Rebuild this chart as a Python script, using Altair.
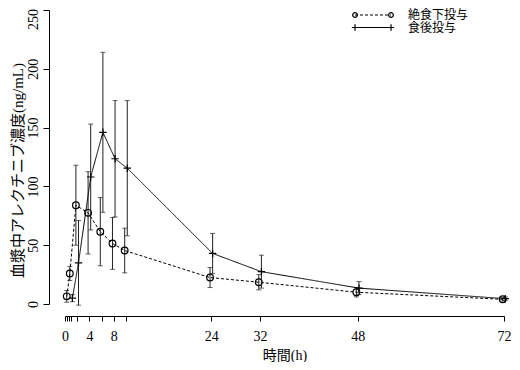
import altair as alt
import pandas as pd

# --- data ---
fast_times = [0.5, 1, 2, 4, 6, 8, 10, 24, 32, 48, 72]
fast_mean = [6.5, 26, 84, 77.5, 61.5, 51.5, 45.5, 22.5, 18.5, 10, 4]
fast_sd = [5, 6, 34, 35, 29, 22, 19, 8.5, 6.5, 4, 1.5]

fed_times = [1, 2, 4, 6, 8, 10, 24, 32, 48, 72]
fed_mean = [5, 35, 108, 146, 123.5, 115.5, 43, 27.5, 13.5, 4.5]
fed_sd = [3, 36, 45, 68, 49.5, 57.5, 17, 14, 5.5, 1.5]

x_ticks = [0, 0.33, 0.67, 1, 2, 4, 6, 8, 10, 24, 32, 48, 72]
x_labels = [0, 4, 8, 24, 32, 48, 72]
y_ticks = [0, 50, 100, 150, 200, 250]

legend_names = ["絶食下投与", "食後投与"]

FONT = "Liberation Serif, Noto Sans CJK JP"
PLUS = "M-1,0L1,0M0,-1L0,1"

def frame(t, m, s):
    return pd.DataFrame({"t": t, "m": m, "lo": [a - b for a, b in zip(m, s)],
                         "hi": [a + b for a, b in zip(m, s)]})

fast = frame(fast_times, fast_mean, fast_sd)
fed = frame(fed_times, fed_mean, fed_sd)

label_list = ",".join(str(v) for v in x_labels)
xscale = alt.Scale(domain=[0, 72], nice=False, zero=False)
yscale = alt.Scale(domain=[0, 250], nice=False)

xaxis = alt.Axis(values=x_ticks, title="時間(h)", offset=12, tickSize=5,
                 labelExpr=f"indexof([{label_list}], datum.value) >= 0 ? datum.label : ''",
                 labelOverlap=False, labelFlush=False, labelPadding=8,
                 titlePadding=5, grid=False)
yaxis = alt.Axis(values=y_ticks, title="血漿中アレクチニブ濃度(ng/mL)", offset=16,
                 tickSize=6, labelAngle=270, labelAlign="center",
                 labelBaseline="bottom", labelPadding=3, titlePadding=1, grid=False,
                 labelOverlap=False, labelFlush=False, titleY=160,
                 labelOffset={"condition": {"test": "datum.value == 250", "value": 9}, "value": 0})

def X(f):
    return alt.X(f"{f}:Q", scale=xscale, axis=xaxis)

def Y(f):
    return alt.Y(f"{f}:Q", scale=yscale, axis=yaxis)

def series(df, dash, shape, off):
    base = alt.Chart(df)
    line = base.mark_line(color="black", strokeWidth=1, strokeDash=dash, xOffset=off).encode(
        x=X("t"), y=Y("m"))
    bars = base.mark_rule(color="#222", strokeWidth=1, xOffset=off).encode(
        x=X("t"), y=Y("lo"), y2="hi:Q")
    cap_lo = base.mark_tick(color="#222", orient="horizontal", size=5, thickness=1, xOffset=off).encode(
        x=X("t"), y=Y("lo"))
    cap_hi = base.mark_tick(color="#222", orient="horizontal", size=5, thickness=1, xOffset=off).encode(
        x=X("t"), y=Y("hi"))
    pts = base.mark_point(shape=shape, filled=False, color="black", strokeWidth=1.2,
                          size=45 if shape == "circle" else 55, opacity=1, xOffset=off).encode(
        x=X("t"), y=Y("m"))
    return [line, bars, cap_lo, cap_hi, pts]

layers = series(fast, [3, 2], "circle", -1.3) + series(fed, [1, 0], PLUS, 1.3)

# legend (layout decoration)
leg_layers = []
for i, (shape, dash, size) in enumerate([("circle", [3, 2], 22), (PLUS, [1, 0], 40)]):
    yy = alt.value(5 + 12.5 * i)
    d = alt.Chart(pd.DataFrame({"name": [legend_names[i]]}))
    leg_layers.append(d.mark_rule(color="black", strokeWidth=1, strokeDash=dash).encode(
        x=alt.value(290), x2=alt.value(326), y=yy))
    leg_layers.append(d.mark_point(shape=shape, filled=False, color="black", size=size,
                                   strokeWidth=1.2, opacity=1).encode(x=alt.value(290), y=yy))
    leg_layers.append(d.mark_point(shape=shape, filled=False, color="black", size=size,
                                   strokeWidth=1.2, opacity=1).encode(x=alt.value(326), y=yy))
    leg_layers.append(d.mark_text(align="left", baseline="middle", font=FONT, fontSize=12,
                                  color="black").encode(x=alt.value(343), y=yy, text="name:N"))

chart = alt.layer(*layers, *leg_layers).properties(
    width=439, height=294,
    padding={"left": 57, "top": 2, "right": 8, "bottom": 58},
    autosize=alt.AutoSizeParams(type="none"),
).configure_view(stroke=None).configure_axis(
    domainColor="black", tickColor="black", labelColor="black", titleColor="black",
    labelFont=FONT, titleFont=FONT, labelFontSize=14, titleFontSize=14,
    titleFontWeight="normal", domainWidth=1, tickWidth=1,
).configure_axisY(titleFontSize=15)

chart.save("out.html", embed_options={"renderer": "svg", "actions": False})
